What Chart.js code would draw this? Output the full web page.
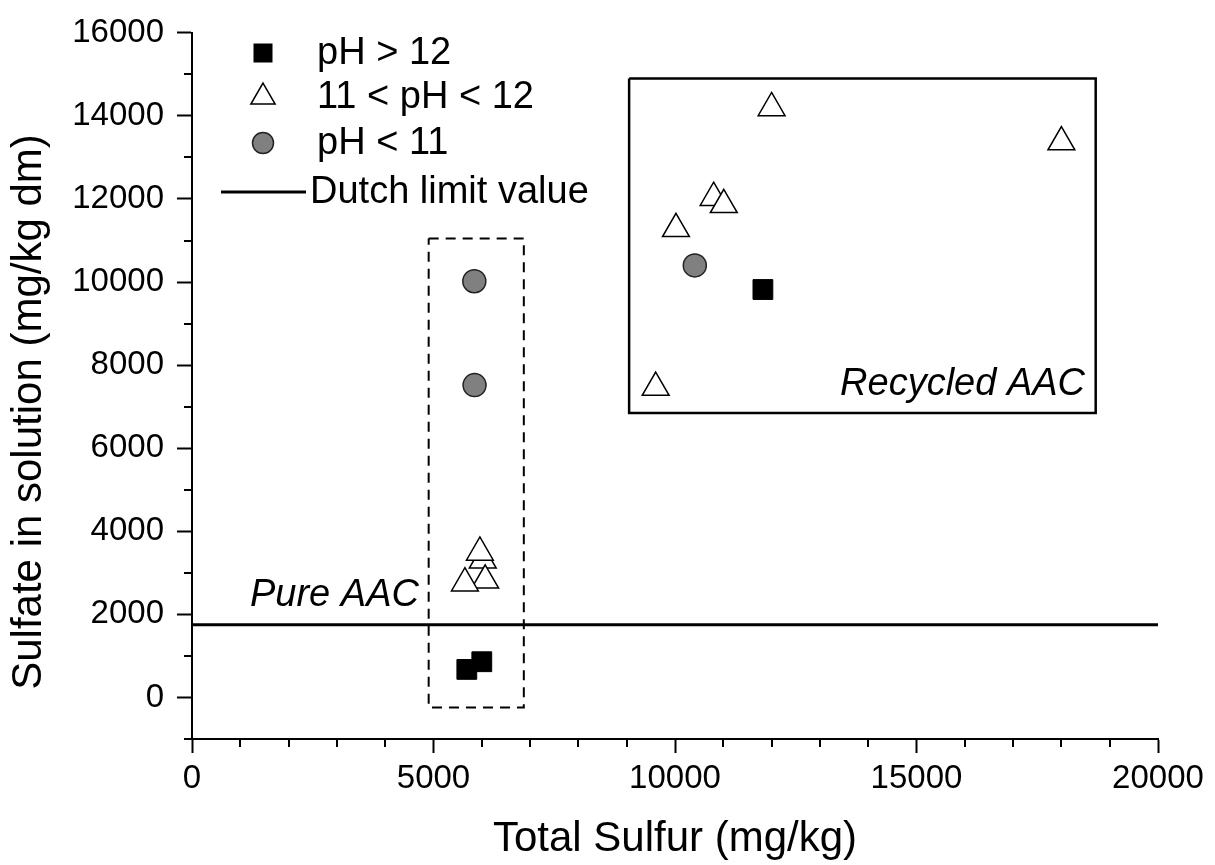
<!DOCTYPE html>
<html>
<head>
<meta charset="utf-8">
<title>Sulfate in solution vs total sulfur</title>
<script src="https://cdn.jsdelivr.net/npm/chart.js@4/dist/chart.umd.min.js"></script>
<style>
  html, body { margin: 0; padding: 0; background: #fff; }
  #wrap { width: 1215px; height: 865px; }
</style>
</head>
<body>
<div id="wrap"><canvas id="myChart" width="1215" height="865"></canvas></div>
<script>
  // series (Total Sulfur mg/kg, Sulfate mg/kg dm)
  const seriesNames = ['pH > 12', '11 < pH < 12', 'pH < 11', 'Dutch limit value']
  const squareX = [5690, 6000, 11820]
  const squareY = [675, 860, 9820]
  const triX = [6020, 6070, 5650, 5960, 10800, 11010, 10020, 12000, 18000, 9600]
  const triY = [3300, 2820, 2750, 3490, 12030, 11860, 11280, 14190, 13370, 7460]
  const circleX = [5845, 5850, 10410]
  const circleY = [10020, 7520, 10400]
  const limitX = [0, 20000]
  const limitY = [1750, 1750]

  // framing boxes around the two groups
  const pureBoxX = [4900, 6870, 6870, 4900, 4900]
  const pureBoxY = [11050, 11050, -240, -240, 11050]
  const recycledBoxX = [9050, 18710, 18710, 9050, 9050]
  const recycledBoxY = [14900, 14900, 6850, 6850, 14900]

  // ticks
  const xTicks = [0, 5000, 10000, 15000, 20000]
  const xMinor = [1000, 2000, 3000, 4000, 6000, 7000, 8000, 9000, 11000, 12000, 13000, 14000, 16000, 17000, 18000, 19000]
  const yTicks = [0, 2000, 4000, 6000, 8000, 10000, 12000, 14000, 16000]
  const yMinor = [-1000, 1000, 3000, 5000, 7000, 9000, 11000, 13000, 15000]

  const yTitle = 'Sulfate in solution (mg/kg dm)'
  const FONT = '"Liberation Sans", Arial, Helvetica, sans-serif'
  const pts = (xs, ys) => xs.map((x, i) => ({ x: x, y: ys[i] }))

  const extras = {
    id: 'extras',
    afterDraw(chart) {
      const c = chart.ctx
      const xs = chart.scales.x
      const ys = chart.scales.y
      const area = chart.chartArea
      c.save()
      // minor ticks
      c.strokeStyle = '#000'
      c.lineWidth = 2
      c.beginPath()
      xMinor.forEach(v => {
        const px = Math.round(xs.getPixelForValue(v))
        c.moveTo(px, area.bottom)
        c.lineTo(px, area.bottom + 8)
      })
      yMinor.forEach(v => {
        const py = Math.round(ys.getPixelForValue(v))
        c.moveTo(area.left, py)
        c.lineTo(area.left - 8, py)
      })
      c.stroke()

      // y axis title (sits a little below the axis middle in the original)
      c.save()
      c.translate(29, 412)
      c.rotate(-Math.PI / 2)
      c.fillStyle = '#000'
      c.font = '42px ' + FONT
      c.textAlign = 'center'
      c.textBaseline = 'middle'
      c.fillText(yTitle, 0, 0)
      c.restore()

      // group labels
      c.fillStyle = '#000'
      c.font = 'italic 38px ' + FONT
      c.textBaseline = 'alphabetic'
      c.textAlign = 'left'
      c.fillText('Pure AAC', xs.getPixelForValue(1200), ys.getPixelForValue(2200))
      c.textAlign = 'right'
      c.fillText('Recycled AAC', xs.getPixelForValue(18490), ys.getPixelForValue(7270))

      // legend
      const lx = 263
      const tx = 317
      const rows = [53, 97, 143, 192]
      c.font = '38px ' + FONT
      c.textAlign = 'left'
      c.textBaseline = 'middle'
      c.lineWidth = 1.5
      // square
      c.fillStyle = '#000'
      c.fillRect(lx - 9.5, rows[0] - 9.5, 19, 19)
      // triangle
      const r = 14
      c.beginPath()
      c.moveTo(lx, rows[1] - r)
      c.lineTo(lx + r * Math.sin(2 * Math.PI / 3), rows[1] + r / 2)
      c.lineTo(lx - r * Math.sin(2 * Math.PI / 3), rows[1] + r / 2)
      c.closePath()
      c.fillStyle = '#fff'
      c.fill()
      c.strokeStyle = '#000'
      c.stroke()
      // circle
      c.beginPath()
      c.arc(lx, rows[2], 10.5, 0, Math.PI * 2)
      c.fillStyle = '#808080'
      c.fill()
      c.strokeStyle = '#222'
      c.stroke()
      // line
      c.beginPath()
      c.lineWidth = 3
      c.strokeStyle = '#000'
      c.moveTo(221, rows[3])
      c.lineTo(306, rows[3])
      c.stroke()

      c.fillStyle = '#000'
      seriesNames.forEach((name, i) => {
        c.fillText(name, i === 3 ? 310 : tx, rows[i] + 1)
      })
      c.restore()
    }
  }

  const ctx = document.getElementById('myChart')
  // eslint-disable-next-line no-unused-vars
  const myChart = new Chart(ctx, {
    type: 'scatter',
    data: {
      datasets: [{
        label: seriesNames[0],
        data: pts(squareX, squareY),
        pointStyle: 'rect',
        pointRadius: 14,
        backgroundColor: '#000',
        borderColor: '#000',
        borderWidth: 1,
        order: 1
      }, {
        label: seriesNames[1],
        data: pts(triX, triY),
        pointStyle: 'triangle',
        pointRadius: 15.5,
        backgroundColor: '#fff',
        borderColor: '#000',
        borderWidth: 1.5,
        order: 0
      }, {
        label: seriesNames[2],
        data: pts(circleX, circleY),
        pointStyle: 'circle',
        pointRadius: 11.5,
        backgroundColor: '#808080',
        borderColor: '#222',
        borderWidth: 1.5,
        order: 2
      }, {
        label: seriesNames[3],
        data: pts(limitX, limitY),
        showLine: true,
        pointRadius: 0,
        borderColor: '#000',
        borderWidth: 3,
        order: 5
      }, {
        label: 'pure box',
        data: pts(pureBoxX, pureBoxY),
        showLine: true,
        pointRadius: 0,
        borderColor: '#000',
        borderWidth: 2,
        borderDash: [10, 7],
        order: 6
      }, {
        label: 'recycled box',
        data: pts(recycledBoxX, recycledBoxY),
        showLine: true,
        pointRadius: 0,
        borderColor: '#000',
        borderWidth: 2.5,
        order: 6
      }]
    },
    options: {
      responsive: false,
      animation: false,
      events: [],
      layout: {
        padding: { top: 28, right: 57, left: 0, bottom: 0 }
      },
      plugins: {
        legend: { display: false },
        tooltip: { enabled: false }
      },
      scales: {
        x: {
          type: 'linear',
          position: 'bottom',
          min: 0,
          max: 20000,
          afterBuildTicks: s => { s.ticks = xTicks.map(v => ({ value: v })) },
          afterFit: s => { s.height = 126 },
          ticks: {
            color: '#000',
            font: { family: FONT, size: 33 },
            padding: 6,
            maxRotation: 0,
            callback: v => String(v)
          },
          grid: {
            drawOnChartArea: false,
            drawTicks: true,
            tickLength: 14,
            tickColor: '#000',
            tickWidth: 2
          },
          border: { display: true, color: '#000', width: 2 },
          title: {
            display: true,
            text: 'Total Sulfur (mg/kg)',
            color: '#000',
            font: { family: FONT, size: 42 },
            padding: { top: 0, bottom: 0 }
          }
        },
        y: {
          type: 'linear',
          min: -1000,
          max: 16000,
          afterBuildTicks: s => { s.ticks = yTicks.map(v => ({ value: v })) },
          afterFit: s => { s.width = 192 },
          ticks: {
            color: '#000',
            font: { family: FONT, size: 33 },
            padding: 13,
            callback: v => String(v)
          },
          grid: {
            drawOnChartArea: false,
            drawTicks: true,
            tickLength: 15,
            tickColor: '#000',
            tickWidth: 2
          },
          border: { display: true, color: '#000', width: 2 },
          title: { display: false }
        }
      }
    },
    plugins: [extras]
  })
</script>
</body>
</html>
